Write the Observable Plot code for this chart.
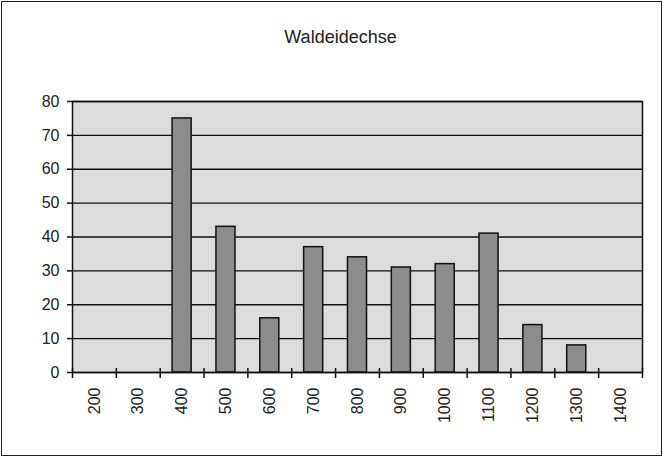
<!DOCTYPE html>
<html>
<head>
<meta charset="utf-8">
<script src="https://cdn.jsdelivr.net/npm/d3@7"></script>
<script src="https://cdn.jsdelivr.net/npm/@observablehq/plot@0.6"></script>
<style>
  body { margin: 0; background: white; }
  #chart svg { display: block; outline: 1.5px solid #222; outline-offset: -2px; }
</style>
</head>
<body>
<div id="chart"></div>
<script>
const title = "Waldeidechse";
const categories = [200, 300, 400, 500, 600, 700, 800, 900, 1000, 1100, 1200, 1300, 1400];
const counts = [0, 0, 75, 43, 16, 37, 34, 31, 32, 41, 14, 8, 0];
const yTicks = [0, 10, 20, 30, 40, 50, 60, 70, 80];
const binEdges = [150, 250, 350, 450, 550, 650, 750, 850, 950, 1050, 1150, 1250, 1350, 1450];

const data = categories.map((c, i) => ({cat: c, n: counts[i]}));
const bars = data.filter(d => d.n > 0);

const chart = Plot.plot({
  width: 663,
  height: 457,
  marginLeft: 72,
  marginRight: 21,
  marginTop: 101,
  marginBottom: 85,
  x: {type: "linear", domain: [binEdges[0], binEdges[binEdges.length - 1]], axis: null},
  y: {domain: [0, 80], axis: null},
  style: {fontFamily: "'Liberation Sans', Arial, Helvetica, sans-serif", fontSize: "16px", background: "white", color: "#222"},
  marks: [
    Plot.frame({fill: "#dcdcdc", stroke: "none"}),
    Plot.ruleY(yTicks, {stroke: "#111", strokeWidth: 1.4}),
    Plot.rectY(bars, {
      x1: d => d.cat - 50, x2: d => d.cat + 50, y: "n",
      insetLeft: 12.4, insetRight: 12.4,
      fill: "#8c8c8c", stroke: "#111", strokeWidth: 1.5
    }),
    Plot.frame({stroke: "#111", strokeWidth: 1.5}),
    Plot.axisY({ticks: yTicks, label: null, tickSize: 5, tickPadding: 8, stroke: "#111", strokeWidth: 1.5, fill: "#222", fontSize: 16}),
    Plot.axisX({ticks: binEdges, label: null, tickFormat: () => "", tickSize: 10, dy: -4, stroke: "#111", strokeWidth: 1.5}),
    Plot.axisX({ticks: categories, label: null, tickSize: 0, tickPadding: 15, tickRotate: -90, tickFormat: d => String(d), fill: "#222", fontSize: 16}),
    Plot.text([title], {frameAnchor: "top", dy: -59, dx: -17, lineAnchor: "bottom", fontSize: 18, fill: "#222"})
  ]
});
document.getElementById("chart").append(chart);
</script>
</body>
</html>
